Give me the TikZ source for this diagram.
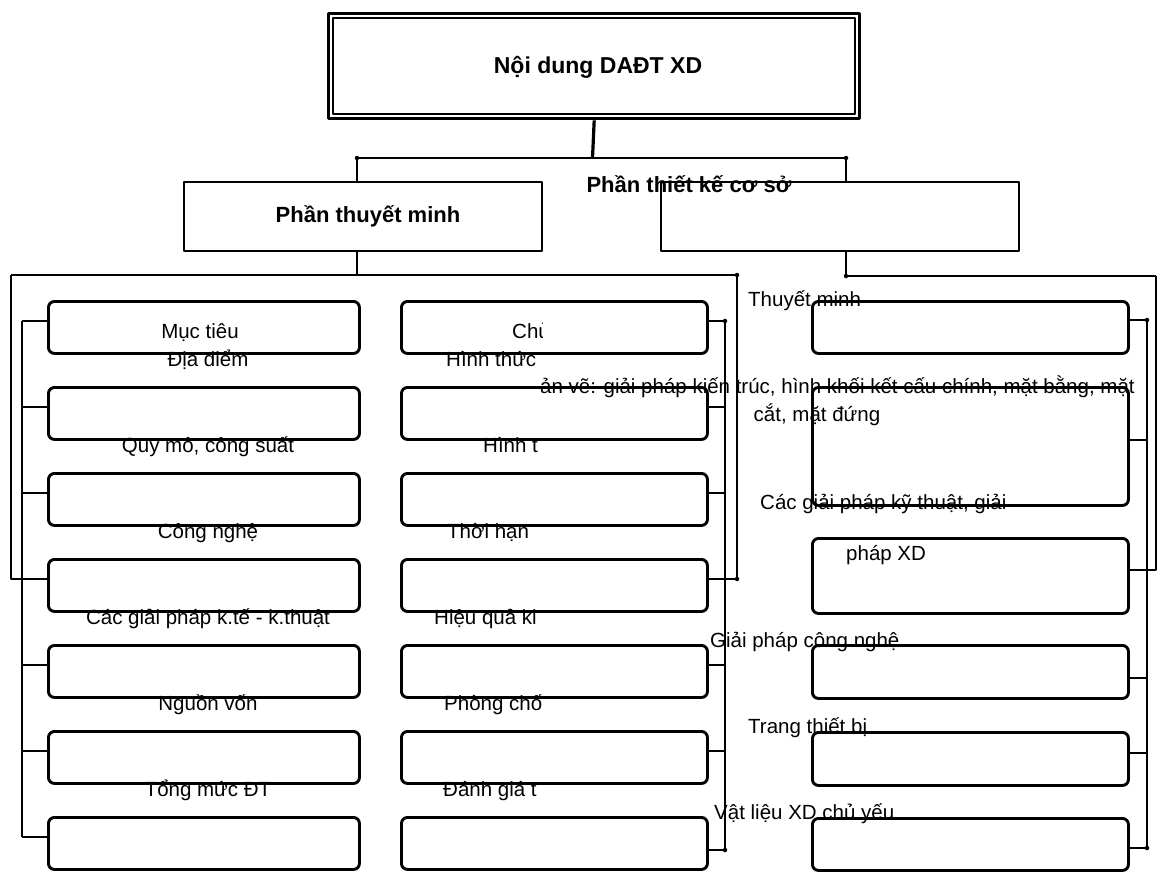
\documentclass[tikz,border=0pt]{standalone}
\usepackage{fontspec}
\setmainfont{Liberation Sans}
\usetikzlibrary{calc}
\begin{document}
\begin{tikzpicture}[x=1pt,y=-1pt,line join=round]
\tikzset{
  rbox/.style={draw, line width=2.9pt, rounded corners=6pt, inner sep=0pt, anchor=north west},
  lvltwo/.style={draw, line width=1.7pt, inner sep=0pt, anchor=north west, minimum width=358pt, minimum height=69pt},
  conn/.style={line width=2.9pt},
  thinconn/.style={line width=2.2pt},
  lbl/.style={inner sep=0pt, font=\fontsize{20.5}{24}\selectfont},
  head/.style={inner sep=0pt, font=\bfseries\fontsize{22}{26}\selectfont},
  enddot/.style={fill, circle, inner sep=0pt, minimum size=4.5pt}
}
\useasboundingbox (0,0) rectangle (1157,871);

% ---- top box (double frame)
\node[draw, line width=3.4pt, minimum width=531pt, minimum height=105pt, anchor=north west, inner sep=0pt] (top) at (327,12) {};
\node[draw, line width=1.8pt, minimum width=522pt, minimum height=96pt, inner sep=0pt] (topin) at (top.center) {};
\node[head, font=\bfseries\fontsize{23}{27}\selectfont, anchor=base] (toptext) at (598,73) {Nội dung DAĐT XD};

% ---- level two boxes
\node[lvltwo] (PL) at (183,181) {};
\node[lvltwo] (PR) at (660,181) {};
\node[head, anchor=base] (PLtext) at (368,222) {Phần thuyết minh};
\node[head, anchor=base] (PRtext) at (689,192) {Phần thiết kế cơ sở};

% ---- top connectors
\coordinate (b0) at (592.5,158);
\coordinate (bl) at (357,158);
\coordinate (br) at (846,158);
\draw[line width=3.2pt] (top.south) -- (b0);
\draw[conn] (bl) -- (br);
\draw[thinconn] (bl) -- (bl |- PL.north);
\draw[thinconn] (br) -- (br |- PR.north);
\node[enddot] (d1) at (bl) {};
\node[enddot] (d2) at (br) {};

% ---- columns 1 and 2
\foreach \i/\t in {1/300,2/386,3/472,4/558,5/644,6/730,7/816} {
  \node[rbox, minimum width=311pt, minimum height=52pt] (L\i) at (47,\t) {};
  \node[rbox, minimum width=306pt, minimum height=52pt] (C\i) at (400,\t) {};
  \coordinate (Ls\i) at ($(L\i.north west)+(0,21)$);
  \coordinate (Cs\i) at ($(C\i.north east)+(0,21)$);
}
\coordinate (Cs7) at ($(C7.north east)+(0,34)$);

% ---- column 3
\node[rbox, minimum width=316pt, minimum height=52pt] (R1) at (811,300) {};
\node[rbox, minimum width=316pt, minimum height=118pt] (R2) at (811,386) {};
\node[rbox, minimum width=316pt, minimum height=75pt] (R3) at (811,537) {};
\node[rbox, minimum width=316pt, minimum height=53pt] (R4) at (811,644) {};
\node[rbox, minimum width=316pt, minimum height=53pt] (R5) at (811,731) {};
\node[rbox, minimum width=316pt, minimum height=52pt] (R6) at (811,817) {};
\coordinate (Rs1) at ($(R1.north east)+(0,20)$);
\coordinate (Rs2) at ($(R2.north east)+(0,54)$);
\coordinate (Rs3) at ($(R3.north east)+(0,33)$);
\coordinate (Rs4) at ($(R4.north east)+(0,34)$);
\coordinate (Rs5) at ($(R5.north east)+(0,22)$);
\coordinate (Rs6) at ($(R6.north east)+(0,31)$);

% ---- level two to level three connectors
\coordinate (hL) at (357,275);
\coordinate (oL) at (11,275);
\coordinate (oR) at (737,275);
\coordinate (hR) at (846,276);
\coordinate (oRR) at (1156,276);
\draw[conn] (hL |- PL.south) -- (hL);
\draw[conn] (oL) -- (oR);
\draw[conn] (oL) -- (Ls4 -| oL) -- (Ls4);
\draw[conn] (oR) -- (Cs4 -| oR) -- (Cs4);
\draw[conn] (hR |- PR.south) -- (hR) -- (oRR);
\draw[conn] (oRR) -- (Rs3 -| oRR) -- (Rs3);
\node[enddot] (d3) at (oR) {};
\node[enddot] (d4) at (Cs4 -| oR) {};
\node[enddot] (d5) at (hR) {};

% ---- column brackets
\coordinate (lb) at (22,0);
\coordinate (cb) at (725,0);
\coordinate (rb) at (1147,0);
\draw[conn] (Ls1 -| lb) -- (Ls7 -| lb);
\draw[conn] (Cs1 -| cb) -- (Cs7 -| cb);
\draw[conn] (Rs1 -| rb) -- (Rs6 -| rb);
\foreach \i in {1,2,3,5,6,7} {
  \draw[conn] (Ls\i) -- (Ls\i -| lb);
  \draw[conn] (Cs\i) -- (Cs\i -| cb);
}
\draw[conn] (Ls4) -- (Ls4 -| lb);
\foreach \i in {1,...,6} {
  \draw[conn] (Rs\i) -- (Rs\i -| rb);
}
\node[enddot] (d6) at (Cs1 -| cb) {};
\node[enddot] (d7) at (Cs7 -| cb) {};
\node[enddot] (d8) at (Rs1 -| rb) {};
\node[enddot] (d9) at (Rs6 -| rb) {};

% ---- column 1 labels
\node[lbl, anchor=base] (t11) at (200,338) {Mục tiêu};
\node[lbl, anchor=base] (t12) at (208,366) {Địa điểm};
\node[lbl, anchor=base] (t13) at (208,452) {Quy mô, công suất};
\node[lbl, anchor=base] (t14) at (208,538) {Công nghệ};
\node[lbl, anchor=base] (t15) at (208,624) {Các giải pháp k.tế - k.thuật};
\node[lbl, anchor=base] (t16) at (208,710) {Nguồn vốn};
\node[lbl, anchor=base] (t17) at (208,796) {Tổng mức ĐT};

% ---- column 2 labels (cut off at the right)
\begin{scope}
\clip (380,280) rectangle (542,871);
\node[lbl, anchor=base west] (t21) at (512,338) {Chủ};
\node[lbl, anchor=base west] (t22) at (446,366) {Hình thức};
\node[lbl, anchor=base west] (t23) at (483,452) {Hình t};
\node[lbl, anchor=base west] (t24) at (447,538) {Thời hạn};
\node[lbl, anchor=base west] (t25) at (434,624) {Hiệu quả ki};
\node[lbl, anchor=base west] (t26) at (444,710) {Phòng chố};
\node[lbl, anchor=base west] (t27) at (443,796) {Đánh giá t};
\end{scope}

% ---- column 3 labels
\node[lbl, anchor=base west] (t31) at (748,306) {Thuyết minh};
\node[lbl, anchor=base west] (t32) at (540,393) {ản vẽ: giải pháp kiến trúc, hình khối kết cấu chính, mặt bằng, mặt};
\node[lbl, anchor=base] (t32b) at (817,421) {cắt, mặt đứng};
\node[lbl, anchor=base west] (t33) at (760,509) {Các giải pháp kỹ thuật, giải};
\node[lbl, anchor=base west] (t33b) at (846,560) {pháp XD};
\node[lbl, anchor=base west] (t34) at (710,647) {Giải pháp công nghệ};
\node[lbl, anchor=base west] (t35) at (748,733) {Trang thiết bị};
\node[lbl, anchor=base west] (t36) at (714,819) {Vật liệu XD chủ yếu};
\end{tikzpicture}
\end{document}
